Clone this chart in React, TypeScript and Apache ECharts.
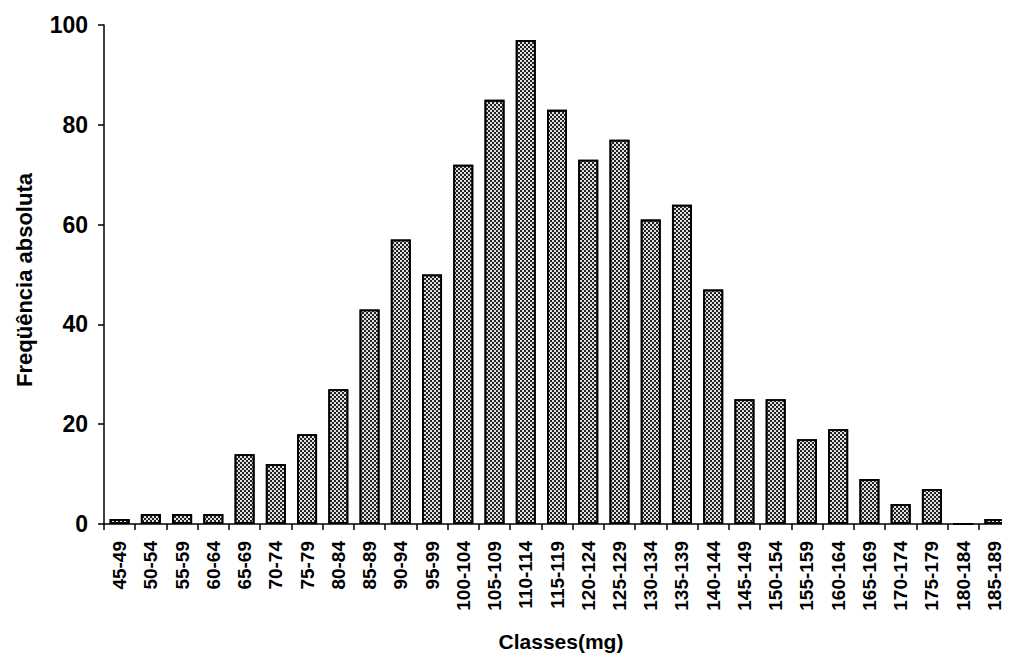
import React, { useEffect, useRef } from "react";
import * as echarts from "echarts";

const categories = [
  "45-49", "50-54", "55-59", "60-64", "65-69", "70-74", "75-79", "80-84",
  "85-89", "90-94", "95-99", "100-104", "105-109", "110-114", "115-119",
  "120-124", "125-129", "130-134", "135-139", "140-144", "145-149",
  "150-154", "155-159", "160-164", "165-169", "170-174", "175-179",
  "180-184", "185-189",
];
const frequencies = [
  1, 2, 2, 2, 14, 12, 18, 27, 43, 57, 50, 72, 85, 97, 83, 73, 77, 61, 64, 47,
  25, 25, 17, 19, 9, 4, 7, 0, 1,
];
const yTicks = [0, 20, 40, 60, 80, 100];
const xTitle = "Classes(mg)";
const yTitle = "Freqüência absoluta";

const FONT = "'Liberation Sans', Arial, sans-serif";

export default function App() {
  const ref = useRef<HTMLDivElement>(null);
  useEffect(() => {
    if (!ref.current) return;
    const chart = echarts.init(ref.current, null, { renderer: "svg" });
    chart.setOption({
      animation: false,
      backgroundColor: "#ffffff",
      grid: { left: 104, top: 25, bottom: 138, right: -10, containLabel: false },
      xAxis: {
        type: "category",
        data: categories,
        axisLine: { show: true, lineStyle: { color: "#000", width: 1.5 } },
        axisTick: { show: true, length: 6, lineStyle: { color: "#000", width: 1.5 } },
        axisLabel: {
          rotate: 90,
          interval: 0,
          margin: 17,
          fontFamily: FONT,
          fontWeight: "bold",
          fontSize: 19,
          color: "#000",
        },
        splitLine: { show: false },
      },
      yAxis: {
        type: "value",
        min: yTicks[0],
        max: yTicks[yTicks.length - 1],
        interval: 20,
        axisLine: { show: true, lineStyle: { color: "#000", width: 1.5 } },
        axisTick: { show: true, length: 6, lineStyle: { color: "#000", width: 1.5 } },
        axisLabel: {
          margin: 16,
          fontFamily: FONT,
          fontWeight: "bold",
          fontSize: 23,
          color: "#000",
        },
        splitLine: { show: false },
      },
      graphic: [
        {
          type: "text",
          x: 561,
          y: 641,
          style: {
            text: xTitle,
            font: `bold 21px ${FONT}`,
            fill: "#000",
            align: "center",
            verticalAlign: "middle",
          },
        },
        {
          type: "text",
          x: 24,
          y: 280,
          rotation: Math.PI / 2,
          style: {
            text: yTitle,
            font: `bold 22px ${FONT}`,
            fill: "#000",
            align: "center",
            verticalAlign: "middle",
          },
        },
      ],
      series: [
        {
          type: "bar",
          data: frequencies,
          barWidth: 20,
          itemStyle: {
            color: "#e0e0e0",
            borderColor: "#000",
            borderWidth: 1.8,
            decal: {
              symbol: "rect",
              symbolSize: 1,
              color: "#222",
              dashArrayX: [[2, 2], [0, 2, 2, 0]],
              dashArrayY: [2, 0],
              rotation: 0,
            },
          },
        },
      ],
    });
    return () => chart.dispose();
  }, []);
  return <div ref={ref} style={{ width: 1010, height: 662, margin: -8 }} />;
}
